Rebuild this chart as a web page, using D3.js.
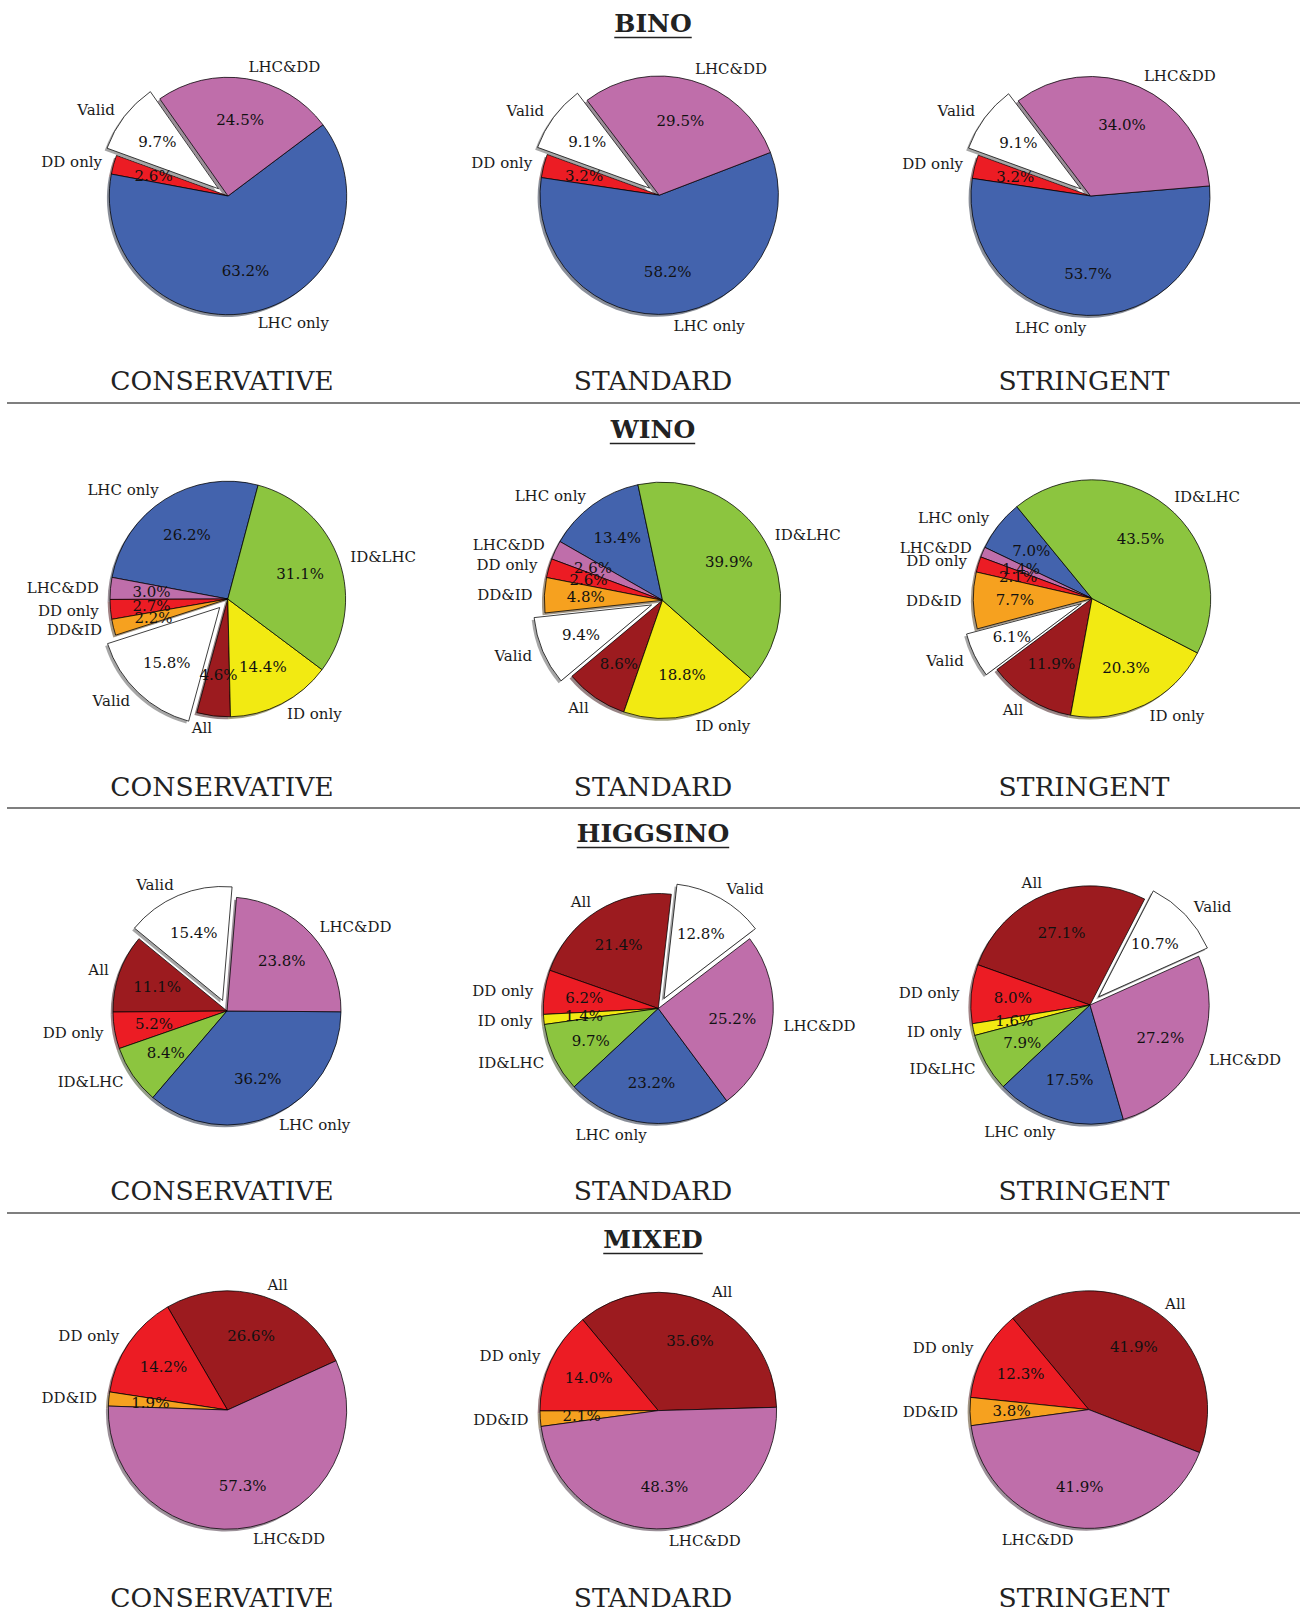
<!DOCTYPE html>
<html>
<head>
<meta charset="utf-8">
<script src="https://cdn.jsdelivr.net/npm/d3@7"></script>
<style>
  html, body { margin: 0; padding: 0; background: #ffffff; }
  svg { display: block; }
</style>
</head>
<body>
<svg id="chart" width="1306" height="1609"></svg>
<script>
// ---- data -----------------------------------------------------------------
const groups = ["BINO", "WINO", "HIGGSINO", "MIXED"];
const scenarios = ["CONSERVATIVE", "STANDARD", "STRINGENT"];

const categories = ["LHC only", "LHC&DD", "DD only", "DD&ID", "ID only", "ID&LHC", "All", "Valid"];
const categoryColors = ["#4363ad", "#bf6eaa", "#ec1c24", "#f6a11f", "#f2ea12", "#8cc53f", "#9c1b1f", "#ffffff"];

// wedge labels, listed counter-clockwise; values per scenario (percent)
const binoLabels = ["DD only", "LHC only", "LHC&DD", "Valid"];
const binoValues = [
  [2.6, 63.2, 24.5, 9.7],
  [3.2, 58.2, 29.5, 9.1],
  [3.2, 53.7, 34.0, 9.1]
];

const winoLabels = ["LHC only", "LHC&DD", "DD only", "DD&ID", "Valid", "All", "ID only", "ID&LHC"];
const winoValues = [
  [26.2, 3.0, 2.7, 2.2, 15.8, 4.6, 14.4, 31.1],
  [13.4, 2.6, 2.6, 4.8, 9.4, 8.6, 18.8, 39.9],
  [7.0, 1.4, 2.1, 7.7, 6.1, 11.9, 20.3, 43.5]
];

const higgsinoLabels = ["All", "DD only", "ID only", "ID&LHC", "LHC only", "LHC&DD", "Valid"];
const higgsinoValues = [
  [11.1, 5.2, null, 8.4, 36.2, 23.8, 15.4],
  [21.4, 6.2, 1.4, 9.7, 23.2, 25.2, 12.8],
  [27.1, 8.0, 1.6, 7.9, 17.5, 27.2, 10.7]
];

const mixedLabels = ["All", "DD only", "DD&ID", "LHC&DD"];
const mixedValues = [
  [26.6, 14.2, 1.9, 57.3],
  [35.6, 14.0, 2.1, 48.3],
  [41.9, 12.3, 3.8, 41.9]
];

// the wedge pulled out of each pie
const explodedLabel = "Valid";

// ---- layout ---------------------------------------------------------------
// angle (degrees, counter-clockwise from 3 o'clock) where the first wedge starts
const startAngles = [
  [160, 160, 160],
  [75.1, 102, 129.3],
  [140.6, 83.5, 62.7],
  [24.4, 1.6, -21.2]
];
// pie centre x, centre y and radius for every panel
const pieGeometry = [
  [[228, 196, 118.7], [659.2, 195.2, 119.2], [1090.5, 196, 119.5]],
  [[227.8, 599, 117.8], [662.5, 600.3, 118.2], [1092, 598.5, 118.7]],
  [[227, 1011, 114], [658.3, 1008.5, 115], [1090, 1005, 119.2]],
  [[227.5, 1410, 119.2], [658.3, 1410.6, 118.3], [1088.8, 1409.6, 118.8]]
];
const groupLabels = [binoLabels, winoLabels, higgsinoLabels, mixedLabels];
const groupValues = [binoValues, winoValues, higgsinoValues, mixedValues];

const width = 1306;
const explodeFrac = 0.1;
const labelDistance = 1.1;
const pctDistance = 0.65;
const colCenters = [222, 653, 1084];
const titleY = [32, 438, 842, 1248];
const subtitleY = [390, 796, 1200, 1607];
const ruleY = [403, 808, 1213];

const color = d3.scaleOrdinal().domain(categories).range(categoryColors);
const serif = "'DejaVu Serif', 'Liberation Serif', serif";

const svg = d3.select("#chart");

// horizontal separators between the particle groups
svg.selectAll("line.rule")
  .data(ruleY)
  .join("line")
  .attr("class", "rule")
  .attr("x1", 7).attr("x2", width - 6)
  .attr("y1", d => d).attr("y2", d => d)
  .attr("stroke", "#555").attr("stroke-width", 1.3);

function shade(c) {
  const rgb = d3.rgb(c);
  return d3.rgb(rgb.r * 0.3, rgb.g * 0.3, rgb.b * 0.3).toString();
}

groups.forEach((g, gi) => {
  // group heading, bold and underlined
  const title = svg.append("text")
    .attr("x", width / 2).attr("y", titleY[gi])
    .attr("text-anchor", "middle")
    .attr("font-family", serif).attr("font-weight", "bold")
    .attr("font-size", 25).attr("fill", "#222")
    .text(g);
  const bb = title.node().getBBox();
  svg.append("line")
    .attr("x1", bb.x).attr("x2", bb.x + bb.width)
    .attr("y1", titleY[gi] + 5.5).attr("y2", titleY[gi] + 5.5)
    .attr("stroke", "#222").attr("stroke-width", 1.6);

  scenarios.forEach((s, si) => {
    const labels = groupLabels[gi];
    const vals = groupValues[gi][si];
    const rows = labels.map((l, i) => ({ label: l, value: vals[i] }))
      .filter(d => d.value != null && d.value > 0);

    const [cx, cy, radius] = pieGeometry[gi][si];
    const arc = d3.arc().innerRadius(0).outerRadius(radius);
    const shadowOffset = 0.02 * radius;

    const a0 = Math.PI / 2 - startAngles[gi][si] * Math.PI / 180;
    const pie = d3.pie().sort(null).value(d => d.value)
      .startAngle(a0).endAngle(a0 - 2 * Math.PI);
    const arcs = pie(rows);

    const gPie = svg.append("g").attr("transform", `translate(${cx},${cy})`);

    arcs.forEach(a => {
      const mid = (a.startAngle + a.endAngle) / 2;
      const e = a.data.label === explodedLabel ? explodeFrac * radius : 0;
      a.ox = e * Math.sin(mid);
      a.oy = -e * Math.cos(mid);
      a.mid = mid;
    });

    // drop shadows below the wedges
    gPie.selectAll("path.shadow")
      .data(arcs)
      .join("path")
      .attr("class", "shadow")
      .attr("transform", d => `translate(${d.ox - shadowOffset},${d.oy + shadowOffset})`)
      .attr("d", arc)
      .attr("fill", d => shade(color(d.data.label)))
      .attr("fill-opacity", 0.5);

    gPie.selectAll("path.wedge")
      .data(arcs)
      .join("path")
      .attr("class", "wedge")
      .attr("transform", d => `translate(${d.ox},${d.oy})`)
      .attr("d", arc)
      .attr("fill", d => color(d.data.label))
      .attr("stroke", "#000")
      .attr("stroke-width", 0.75)
      .attr("stroke-linejoin", "miter");

    // category names outside the rim
    const nameX = d => d.ox + labelDistance * radius * Math.sin(d.mid);
    gPie.selectAll("text.name")
      .data(arcs)
      .join("text")
      .attr("class", "name")
      .attr("x", nameX)
      .attr("y", d => d.oy - labelDistance * radius * Math.cos(d.mid))
      .attr("dy", "0.35em")
      .attr("text-anchor", d => nameX(d) > 0 ? "start" : "end")
      .attr("font-family", serif).attr("font-size", 15).attr("fill", "#1a1a1a")
      .text(d => d.data.label);

    // percentages inside the wedges
    gPie.selectAll("text.pct")
      .data(arcs)
      .join("text")
      .attr("class", "pct")
      .attr("x", d => d.ox + pctDistance * radius * Math.sin(d.mid))
      .attr("y", d => d.oy - pctDistance * radius * Math.cos(d.mid))
      .attr("dy", "0.35em")
      .attr("text-anchor", "middle")
      .attr("font-family", serif).attr("font-size", 15).attr("fill", "#111")
      .text(d => d.data.value.toFixed(1) + "%");

    // scenario caption under each pie
    svg.append("text")
      .attr("x", colCenters[si]).attr("y", subtitleY[gi])
      .attr("text-anchor", "middle")
      .attr("font-family", serif).attr("font-size", 26.5).attr("fill", "#222")
      .text(s);
  });
});
</script>
</body>
</html>
